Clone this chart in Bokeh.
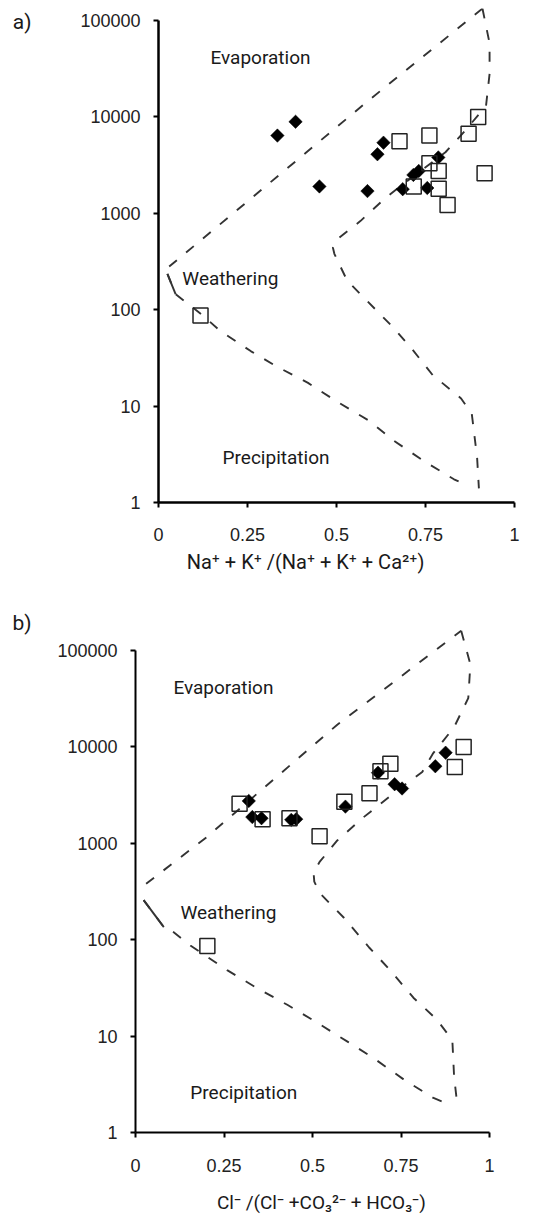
import math
from bokeh.plotting import figure
from bokeh.layouts import column
from bokeh.models import FixedTicker, CustomJSTickFormatter, Range1d, LinearAxis, LogAxis, Label
from bokeh.embed import file_html
from bokeh.resources import INLINE

# ---------------- data ----------------
x_ticks = [0, 0.25, 0.5, 0.75, 1]
y_ticks = [1, 10, 100, 1000, 10000, 100000]

# panel a: Na+K/(Na+K+Ca)
a_dia_x = [0.334, 0.385, 0.452, 0.587, 0.615, 0.632, 0.686, 0.716, 0.731, 0.755, 0.786]
a_dia_y = [6400, 8900, 1900, 1700, 4100, 5400, 1780, 2500, 2750, 1830, 3800]
a_sq_x = [0.677, 0.761, 0.898, 0.871, 0.916, 0.761, 0.787, 0.717, 0.787, 0.812, 0.118]
a_sq_y = [5600, 6400, 10000, 6700, 2600, 3300, 2750, 1900, 1800, 1220, 87]

a_outer_x = [0.03, 0.21, 0.59, 0.91]
a_outer_y = [280, 1000, 14800, 133000]
a_right_x = [0.91, 0.93, 0.93, 0.92, 0.857, 0.806, 0.708, 0.638, 0.567, 0.497, 0.49, 0.494,
             0.53, 0.58, 0.66, 0.71, 0.77, 0.85, 0.88, 0.885, 0.895, 0.90]
a_right_y = [133000, 58000, 28000, 13000, 6900, 4300, 2300, 1450, 830, 520, 440, 380,
             200, 130, 65, 40, 21, 12, 8.3, 5.9, 2.9, 1.4]
a_lower_x = [0.025, 0.048, 0.12, 0.174, 0.26, 0.33, 0.42, 0.50, 0.59, 0.66, 0.745, 0.83, 0.86]
a_lower_y = [235, 145, 90, 60, 37, 26, 17.4, 11.2, 7.1, 4.4, 2.7, 1.74, 1.55]

# panel b: Cl/(Cl+CO3+HCO3)
b_dia_x = [0.32, 0.33, 0.356, 0.44, 0.454, 0.593, 0.685, 0.732, 0.753, 0.847, 0.876]
b_dia_y = [2750, 1870, 1820, 1750, 1780, 2400, 5400, 4100, 3700, 6300, 8700]
b_sq_x = [0.294, 0.359, 0.435, 0.52, 0.59, 0.661, 0.692, 0.72, 0.927, 0.902, 0.203]
b_sq_y = [2570, 1780, 1820, 1180, 2700, 3300, 5600, 6700, 10000, 6200, 86]

b_outer_x = [0.03, 0.2, 0.57, 0.92]
b_outer_y = [380, 1150, 17000, 160000]
b_right_x = [0.92, 0.946, 0.94, 0.90, 0.84, 0.81, 0.74, 0.644, 0.57, 0.52, 0.503, 0.505,
             0.522, 0.588, 0.66, 0.72, 0.785, 0.85, 0.895, 0.90, 0.91]
b_right_y = [160000, 72000, 32000, 16000, 8500, 5500, 3550, 1860, 1070, 640, 500, 400,
             300, 170, 83, 48, 25, 15, 9.1, 3.8, 1.8]
b_lower_x = [0.023, 0.08, 0.107, 0.155, 0.26, 0.34, 0.43, 0.51, 0.60, 0.67, 0.76, 0.84, 0.88]
b_lower_y = [257, 135, 120, 87, 48, 32, 21, 14, 8.7, 6.0, 3.5, 2.3, 2.0]

a_xlabel = "Na\u207a + K\u207a /(Na\u207a + K\u207a + Ca\u00b2\u207a)"
b_xlabel = "Cl\u207b /(Cl\u207b +CO\u2083\u00b2\u207b + HCO\u2083\u207b)"

LINE_C = "#333333"
TXT_C = "#1a1a1a"


def make_panel(bl, fw, br, bt, fh, bb, y_end, axis_w, xstand,
               dia_x, dia_y, sq_x, sq_y, outer_x, outer_y, right_x, right_y,
               lower_x, lower_y, texts, letter, letter_y, letter_stand,
               xlabel, xlabel_x, xlabel_stand, xlabel_size):
    p = figure(x_range=Range1d(0, 1), y_range=Range1d(1, y_end), y_axis_type="log",
               frame_width=fw, frame_height=fh, min_border_left=bl, min_border_right=br,
               min_border_top=bt, min_border_bottom=bb, output_backend="svg",
               toolbar_location=None, title=None)
    try:
        p.frame_align = False
    except AttributeError:
        pass
    p.grid.visible = False
    p.outline_line_color = None
    p.background_fill_color = "white"
    p.border_fill_color = "white"

    for ax in (p.xaxis[0], p.yaxis[0]):
        ax.axis_line_width = axis_w
        ax.axis_line_color = "black"
        ax.major_tick_line_color = "black"
        ax.major_tick_line_width = 2
        ax.major_tick_out = 5
        ax.major_tick_in = 0
        ax.minor_tick_line_color = None
        ax.major_label_text_font = "Liberation Sans"
        ax.major_label_text_font_size = "18px"
        ax.major_label_text_color = "#222222"
        ax.formatter = CustomJSTickFormatter(code="return String(tick);")
    p.xaxis[0].ticker = FixedTicker(ticks=x_ticks)
    p.yaxis[0].ticker = FixedTicker(ticks=y_ticks)
    p.xaxis[0].bounds = (0, 1)
    p.yaxis[0].bounds = (1, 100000)
    p.yaxis[0].major_label_standoff = 13
    p.xaxis[0].major_label_standoff = xstand

    # panel letter, drawn as the single tick label of an extra bare axis
    lab_ax = LogAxis(ticker=FixedTicker(ticks=[letter_y]),
                     formatter=CustomJSTickFormatter(args=dict(t=letter), code="return t;"),
                     axis_line_color=None, major_tick_line_color=None,
                     minor_tick_line_color=None, major_label_standoff=letter_stand,
                     major_label_text_font="Roboto", major_label_text_font_size="21px",
                     major_label_text_color=TXT_C)
    p.add_layout(lab_ax, "left")

    # x-axis title, drawn as the single tick label of an extra bare axis
    xl_ax = LinearAxis(ticker=FixedTicker(ticks=[xlabel_x]),
                       formatter=CustomJSTickFormatter(args=dict(t=xlabel), code="return t;"),
                       axis_line_color=None, major_tick_line_color=None,
                       minor_tick_line_color=None, major_label_standoff=xlabel_stand,
                       major_label_text_font="Roboto", major_label_text_font_size=xlabel_size,
                       major_label_text_color=TXT_C)
    p.add_layout(xl_ax, "below")

    dash = dict(line_color=LINE_C, line_width=1.9, line_dash="10 12")
    p.line(outer_x, outer_y, **dash)
    p.line(right_x, right_y, **dash)
    p.line(lower_x, lower_y, **dash)
    p.line(lower_x[:2], lower_y[:2], line_color=LINE_C, line_width=1.9)

    p.scatter(dia_x, dia_y, marker="square", angle=math.pi / 4, size=9.5,
              fill_color="black", line_color="black", line_width=0.5)
    p.scatter(sq_x, sq_y, marker="square", size=15, fill_color=None,
              line_color="#222222", line_width=1.5)

    for (txt, x, y) in texts:
        p.add_layout(Label(x=x, y=y, text=txt, text_font="Roboto", text_font_size="19px",
                           text_color=TXT_C, text_align="left", text_baseline="middle"))
    return p


texts_a = [
    ("Evaporation", 0.146, 10 ** 4.62),
    ("Weathering", 0.067, 10 ** 2.32),
    ("Precipitation", 0.18, 10 ** 0.467),
]
texts_b = [
    ("Evaporation", 0.107, 10 ** 4.616),
    ("Weathering", 0.127, 10 ** 2.28),
    ("Precipitation", 0.155, 10 ** 0.415),
]

pa = make_panel(158, 356, 12, 8, 494, 98, 10 ** 5.1245, 2.5, 20,
                a_dia_x, a_dia_y, a_sq_x, a_sq_y, a_outer_x, a_outer_y,
                a_right_x, a_right_y, a_lower_x, a_lower_y, texts_a,
                "a)", 10 ** 4.98, 40, a_xlabel, 0.413, 0, "20px")
pb = make_panel(135, 354, 37, 12, 520, 78, 10 ** 5.394, 2, 21,
                b_dia_x, b_dia_y, b_sq_x, b_sq_y, b_outer_x, b_outer_y,
                b_right_x, b_right_y, b_lower_x, b_lower_y, texts_b,
                "b)", 10 ** 5.29, 17, b_xlabel, 0.525, 10, "19px")

layout = column(pa, pb)
open("out.html", "w").write(file_html(layout, INLINE))
